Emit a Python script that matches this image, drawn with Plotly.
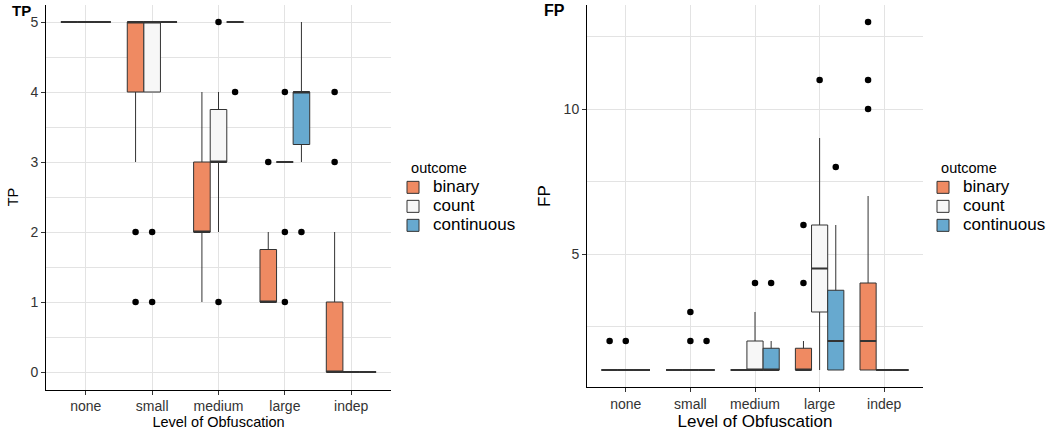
import plotly.graph_objects as go

categories = ["none", "small", "medium", "large", "indep"]
outcomes = ["binary", "count", "continuous"]
fill_colors = {"binary": "#EF8A62", "count": "#F7F7F7", "continuous": "#67A9CF"}
dodge = {"binary": -0.25, "count": 0.0, "continuous": 0.25}
box_width = 0.25

# ---------------- TP panel (box statistics) ----------------
tp_q1 = {"binary": [5, 4, 2, 1, 0], "count": [5, 4, 3, 3, 0], "continuous": [5, 5, 5, 3.25, 0]}
tp_median = {"binary": [5, 5, 2, 1, 0], "count": [5, 5, 3, 3, 0], "continuous": [5, 5, 5, 4, 0]}
tp_q3 = {"binary": [5, 5, 3, 1.75, 1], "count": [5, 5, 3.75, 3, 0], "continuous": [5, 5, 5, 4, 0]}
tp_lower = {"binary": [5, 3, 1, 1, 0], "count": [5, 4, 2, 3, 0], "continuous": [5, 5, 5, 3, 0]}
tp_upper = {"binary": [5, 5, 4, 2, 2], "count": [5, 5, 4, 3, 0], "continuous": [5, 5, 5, 5, 0]}
tp_out_cat = {
    "binary": ["small", "small", "large", "indep", "indep"],
    "count": ["small", "small", "medium", "medium", "large", "large", "large"],
    "continuous": ["medium", "large"],
}
tp_out_val = {
    "binary": [2, 1, 3, 4, 3],
    "count": [2, 1, 5, 1, 4, 2, 1],
    "continuous": [4, 2],
}

# ---------------- FP panel ----------------
fp_q1 = {"binary": [1, 1, 1, 1, 1], "count": [1, 1, 1, 3, 1], "continuous": [1, 1, 1, 1, 1]}
fp_median = {"binary": [1, 1, 1, 1, 2], "count": [1, 1, 1, 4.5, 1], "continuous": [1, 1, 1, 2, 1]}
fp_q3 = {"binary": [1, 1, 1, 1.75, 4], "count": [1, 1, 2, 6, 1], "continuous": [1, 1, 1.75, 3.75, 1]}
fp_lower = {"binary": [1, 1, 1, 1, 1], "count": [1, 1, 1, 1, 1], "continuous": [1, 1, 1, 1, 1]}
fp_upper = {"binary": [1, 1, 1, 2, 7], "count": [1, 1, 3, 9, 1], "continuous": [1, 1, 2, 6, 1]}
fp_out_cat = {
    "binary": ["none", "large", "large", "indep", "indep", "indep"],
    "count": ["none", "small", "small", "medium", "large"],
    "continuous": ["small", "medium", "large"],
}
fp_out_val = {
    "binary": [2, 6, 4, 10, 11, 13],
    "count": [2, 3, 2, 4, 11],
    "continuous": [2, 4, 8],
}

FONT = "Liberation Sans, Arial, sans-serif"
LINE = "#333333"

fig = go.Figure()


def add_panel(q1, med, q3, lo, hi, out_cat, out_val, xa, ya, legend_name):
    cat_index = {c: i + 1 for i, c in enumerate(categories)}
    for oc in outcomes:
        xpos = [cat_index[c] + dodge[oc] for c in categories]
        fig.add_trace(go.Box(
            x=xpos, q1=q1[oc], median=med[oc], q3=q3[oc],
            lowerfence=lo[oc], upperfence=hi[oc],
            width=box_width, whiskerwidth=0,
            fillcolor=fill_colors[oc], line=dict(color=LINE, width=1),
            name='<span style="font-size:17px">' + oc + "</span>", legend=legend_name,
            xaxis=xa, yaxis=ya, hoverinfo="skip", boxpoints=False,
        ))
    # thick median segments (ggplot draws medians with a heavier stroke)
    for oc in outcomes:
        mx, my = [], []
        for c, m in zip(categories, med[oc]):
            p = cat_index[c] + dodge[oc]
            mx += [p - box_width / 2, p + box_width / 2, None]
            my += [m, m, None]
        fig.add_trace(go.Scatter(
            x=mx, y=my, mode="lines", line=dict(color=LINE, width=2.2),
            showlegend=False, xaxis=xa, yaxis=ya, hoverinfo="skip",
        ))
    for oc in outcomes:
        fig.add_trace(go.Scatter(
            x=[cat_index[c] + dodge[oc] for c in out_cat[oc]], y=out_val[oc],
            mode="markers", marker=dict(color="black", size=6.5),
            showlegend=False, xaxis=xa, yaxis=ya, hoverinfo="skip",
        ))


add_panel(tp_q1, tp_median, tp_q3, tp_lower, tp_upper, tp_out_cat, tp_out_val, "x", "y", "legend")
add_panel(fp_q1, fp_median, fp_q3, fp_lower, fp_upper, fp_out_cat, fp_out_val, "x2", "y2", "legend2")

W, H = 1052, 433
GRID = "#E3E3E3"

xcommon = dict(
    range=[0.4, 5.6], tickvals=[1, 2, 3, 4, 5], ticktext=categories,
    showgrid=True, gridcolor=GRID, gridwidth=1, zeroline=False,
    showline=True, linecolor="black", linewidth=1,
    ticks="outside", ticklen=4, tickcolor=LINE,
    tickfont=dict(size=14, color="#333333"), automargin=False,
)
ycommon = dict(
    showgrid=True, gridcolor=GRID, gridwidth=1, zeroline=False,
    showline=True, linecolor="black", linewidth=1,
    ticks="outside", ticklen=4, tickcolor=LINE,
    tickfont=dict(size=14, color="#333333"), automargin=False,
)

legend_common = dict(
    xanchor="left", yanchor="top", y=(H - 154) / H,
    title=dict(text="&nbsp;&nbsp;&nbsp;&nbsp;outcome", font=dict(size=14.5)),
    font=dict(size=12), bgcolor="rgba(0,0,0,0)", itemwidth=30, tracegroupgap=0,
)

fig.update_layout(
    width=W, height=H, margin=dict(l=0, r=0, t=0, b=0),
    paper_bgcolor="white", plot_bgcolor="white",
    font=dict(family=FONT, color="black"),
    boxmode="overlay",
    xaxis=dict(xcommon, domain=[46 / W, 391 / W], anchor="y",
               title=dict(text="Level of Obfuscation", font=dict(size=14.5), standoff=2)),
    yaxis=dict(ycommon, domain=[(H - 389.5) / H, (H - 4.5) / H], anchor="x",
               range=[-0.25, 5.25], dtick=1, tick0=0,
               minor=dict(dtick=0.5, showgrid=True, gridcolor=GRID, gridwidth=1, ticks=""),
               title=dict(text="TP", font=dict(size=14.5), standoff=8)),
    xaxis2=dict(xcommon, domain=[587 / W, 923 / W], anchor="y2",
                title=dict(text="Level of Obfuscation", font=dict(size=17), standoff=2)),
    yaxis2=dict(ycommon, domain=[(H - 387.4) / H, (H - 4.6) / H], anchor="x2",
                range=[0.4, 13.6], dtick=5, tick0=0,
                minor=dict(dtick=2.5, showgrid=True, gridcolor=GRID, gridwidth=1, ticks=""),
                title=dict(text="FP", font=dict(size=17), standoff=8)),
    legend=dict(legend_common, x=393 / W),
    legend2=dict(legend_common, x=923 / W),
    annotations=[
        dict(text="<b>TP</b>", x=10 / W, y=(H - 11) / H, xref="paper", yref="paper",
             xanchor="left", yanchor="middle", showarrow=False, font=dict(size=15)),
        dict(text="<b>FP</b>", x=542 / W, y=(H - 11) / H, xref="paper", yref="paper",
             xanchor="left", yanchor="middle", showarrow=False, font=dict(size=16)),
    ],
)

fig.write_html("out.html", config={"displayModeBar": False},
               post_script="document.body.style.margin='0';")
